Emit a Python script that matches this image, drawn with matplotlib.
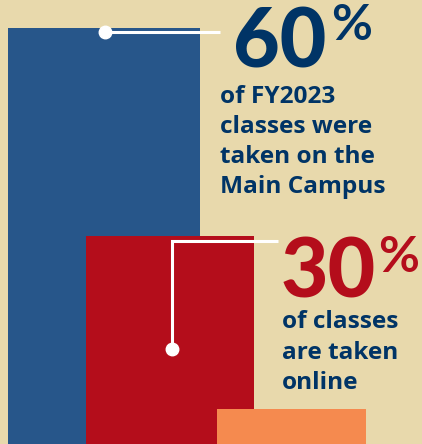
import matplotlib.pyplot as plt

# shares of FY2023 classes (percent)
labels = ['Main Campus', 'Online', 'Other']
shares = [60, 30, 5]
bar_colors = ['#27568A', '#B40D1B', '#F58A4F']
# left edge and width of each bar, in pixels
bar_left = [8, 86, 217]
bar_width = [192, 168, 149]

W, H = 422, 444
bg = '#E8D9AC'
navy = '#003466'
red = '#B40D1B'
px_per_pct = 416 / 60

fig = plt.figure(figsize=(W / 100, H / 100), dpi=100)
fig.patch.set_facecolor(bg)
ax = fig.add_axes([0, 0, 1, 1])
ax.set_facecolor(bg)
ax.set_xlim(0, W)
ax.set_ylim(0, H / px_per_pct)
ax.axis('off')

for left, w, v, c in zip(bar_left, bar_width, shares, bar_colors):
    ax.bar(left, v, width=w, align='edge', color=c, zorder=2)

def ypct(y_px):
    # pixel row from top -> data value
    return (H - y_px) / px_per_pct

# connector lines
ax.plot([105, 220], [ypct(32), ypct(32)], color='white', lw=2.2, zorder=3,
        solid_capstyle='butt')
ax.plot(105, ypct(32), 'o', color='white', ms=9, zorder=4)
ax.plot([172, 172, 278], [ypct(349), ypct(241), ypct(241)], color='white', lw=2.2,
        zorder=3, solid_capstyle='butt', solid_joinstyle='miter')
ax.plot(172, ypct(349), 'o', color='white', ms=9, zorder=4)

def txt(x, y, s, size, color, weight, family='Lato'):
    fig.text(x / W, 1 - y / H, s, fontsize=size, color=color, fontweight=weight,
             family=family, va='baseline', ha='left')

txt(233, 68, '60', 58, navy, 'black')
txt(331, 40, '%', 36, navy, 'bold')
for i, line in enumerate(['of FY2023', 'classes were', 'taken on the', 'Main Campus']):
    txt(220, 103 + 30 * i, line, 17.6, navy, 'bold', 'Open Sans')

txt(281, 297, '30', 59, red, 'black')
txt(378, 272, '%', 36, red, 'bold')
for i, line in enumerate(['of classes', 'are taken', 'online']):
    txt(282, 328 + 30.5 * i, line, 17.6, navy, 'bold', 'Open Sans')

fig.savefig('out.png', dpi=100, facecolor=bg)
